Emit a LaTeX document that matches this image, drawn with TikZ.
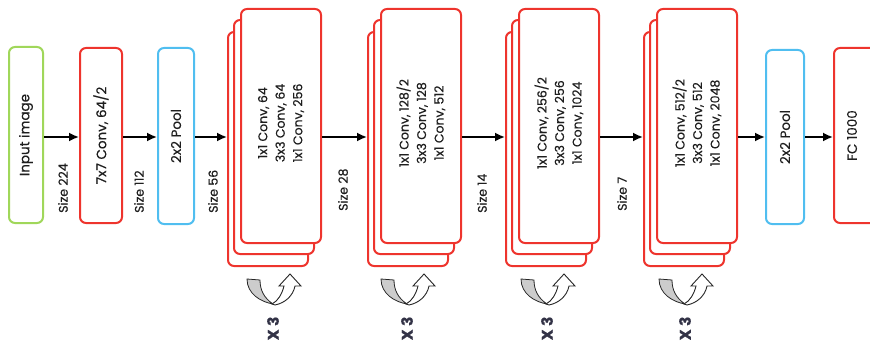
\documentclass[tikz,border=0pt]{standalone}
\usepackage{fontspec}
\setmainfont{Poppins}[FakeBold=0.35]
\usetikzlibrary{arrows.meta}
\definecolor{cred}{RGB}{238,52,45}
\definecolor{cgreen}{RGB}{160,215,90}
\definecolor{cblue}{RGB}{80,190,240}
\definecolor{ctext}{RGB}{30,30,30}
\definecolor{cxthree}{RGB}{50,50,70}
\tikzset{
  boxbase/.style={draw, line width=2pt, rounded corners=6pt, fill=white, inner sep=0pt},
  boxtxt/.style={rotate=90, text=ctext, font=\fontsize{13.5}{15}\selectfont},
  blocktxt/.style={rotate=90, align=center, text=ctext, font=\fontsize{12.5}{17.5}\selectfont},
  arr/.style={line width=1.8pt, -{Latex[length=10pt,width=9pt]}},
  sizelbl/.style={rotate=90, anchor=west, inner sep=0pt, font=\fontsize{12.5}{14}\selectfont, text=ctext},
  xthree/.style={rotate=90, inner sep=0pt, font=\bfseries\fontsize{15.5}{17}\selectfont, text=cxthree},
  rep/.pic={
    \filldraw[fill=gray!40, draw=black!85, line width=0.8pt]
      (-26,-25) .. controls (-26,-10) and (-12,-2) .. (0,0)
      .. controls (-9,-6) and (-13,-14) .. (-13,-24) -- cycle;
    \filldraw[fill=white, draw=black!85, line width=0.9pt]
      (-1,0) .. controls (5,-3) and (9,-10) .. (11,-18) -- (6,-18) -- (17,-30)
      -- (28,-18) -- (22,-18) .. controls (20,-8) and (12,-1) .. (2,1) -- cycle;
  }
}
\begin{document}
\begin{tikzpicture}[x=1pt,y=-1pt]
\useasboundingbox (0,0) rectangle (870,342);
\clip (0,0) rectangle (870,342);
\coordinate (ay) at (0,137);
% simple boxes
\node[boxbase, draw=cgreen, minimum width=34pt, minimum height=176pt] (inp) at (26,135) {};
\node[boxtxt] (inpt) at (inp.center) {Input image};
\node[boxbase, draw=cred, minimum width=42pt, minimum height=175pt] (c7) at (101,135.5) {};
\node[boxtxt] (c7t) at (c7.center) {7x7 Conv, 64/2};
\node[boxbase, draw=cblue, minimum width=36pt, minimum height=176pt] (p1) at (176,136) {};
\node[boxtxt] (p1t) at (p1.center) {2x2 Pool};
\node[boxbase, draw=cblue, minimum width=38pt, minimum height=174pt] (p2) at (785,137) {};
\node[boxtxt] (p2t) at (p2.center) {2x2 Pool};
\node[boxbase, draw=cred, minimum width=66pt, minimum height=175pt] (fc) at (867,135.5) {};
\node[boxtxt] (fct) at (852,135.5) {FC 1000};
% blocks
\foreach \n/\fx/\px/\la/\lb/\lc in {
  1/241/273/{1x1 Conv, 64}/{3x3 Conv, 64}/{1x1 Conv, 256},
  2/381/407/{1x1 Conv, 128/2}/{3x3 Conv, 128}/{1x1 Conv, 512},
  3/519/547/{1x1 Conv, 256/2}/{3x3 Conv, 256}/{1x1 Conv, 1024},
  4/657/685/{1x1 Conv, 512/2}/{3x3 Conv, 512}/{1x1 Conv, 2048}} {
  \node[boxbase, draw=cred, minimum width=80pt, minimum height=234pt] (b\n c) at (\fx+40-13,126+23) {};
  \node[boxbase, draw=cred, minimum width=80pt, minimum height=234pt] (b\n b) at (\fx+40-7,126+11) {};
  \node[boxbase, draw=cred, minimum width=80pt, minimum height=234pt] (b\n a) at (\fx+40,126) {};
  \node[blocktxt] (b\n t) at ([yshift=3pt]b\n a.center) {\la\\\lb\\\lc};
  \pic at (\px,304) {rep};
  \node[xthree] (x\n) at (\px,328.5) {X 3};
}
% size labels
\node[sizelbl] (s1) at (63,213) {Size 224};
\node[sizelbl] (s2) at (139,213) {Size 112};
\node[sizelbl] (s3) at (213,213) {Size 56};
\node[sizelbl] (s4) at (343,211) {Size 28};
\node[sizelbl] (s5) at (482,213) {Size 14};
\node[sizelbl] (s6) at (622,211) {Size 7};
% arrows
\draw[arr] (inp.east |- ay) -- (c7.west |- ay);
\draw[arr] (c7.east |- ay) -- (p1.west |- ay);
\draw[arr] (p1.east |- ay) -- (b1c.west |- ay);
\draw[arr] (b1a.east |- ay) -- (b2c.west |- ay);
\draw[arr] (b2a.east |- ay) -- (b3c.west |- ay);
\draw[arr] (b3a.east |- ay) -- (b4c.west |- ay);
\draw[arr] (b4a.east |- ay) -- (p2.west |- ay);
\draw[arr] (p2.east |- ay) -- (fc.west |- ay);
\end{tikzpicture}
\end{document}
